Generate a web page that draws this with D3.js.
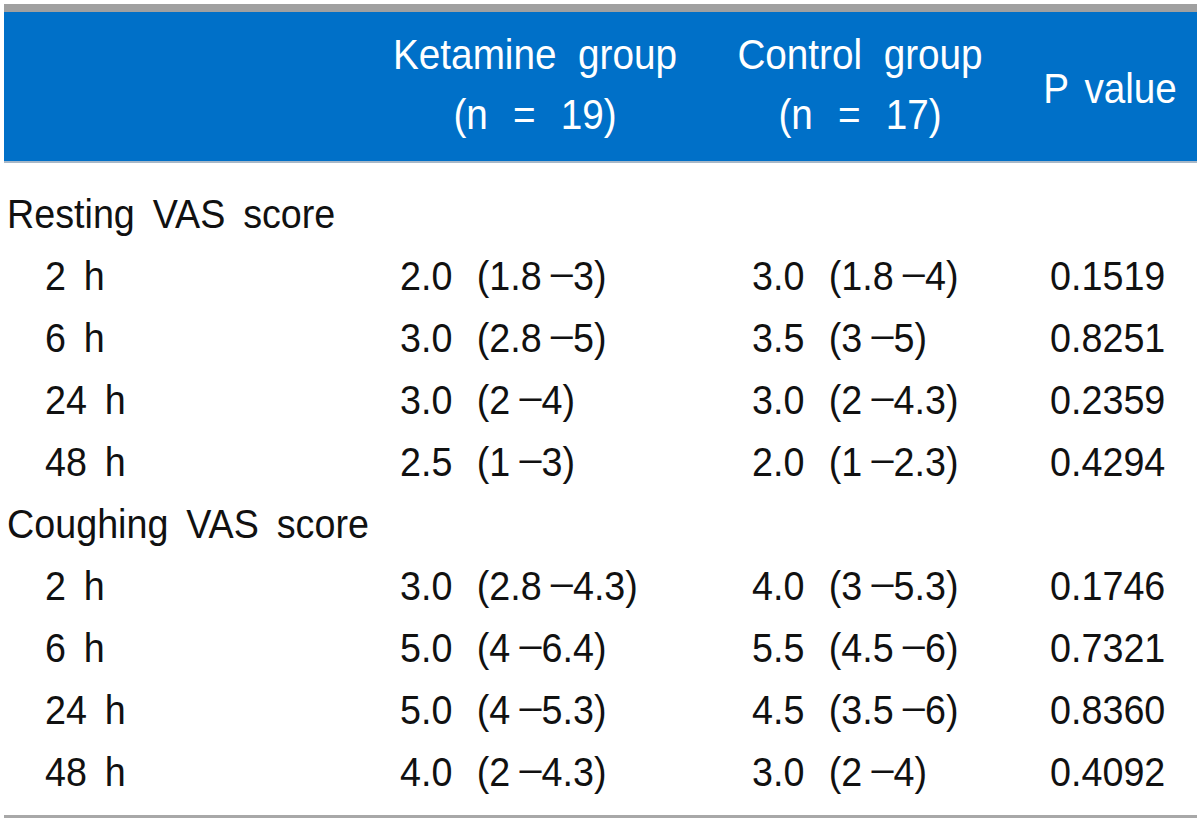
<!DOCTYPE html>
<html>
<head>
<meta charset="utf-8">
<script src="https://cdn.jsdelivr.net/npm/d3@7"></script>
<style>
  html, body { margin: 0; padding: 0; background: #ffffff; }
  svg { display: block; }
  text { font-family: "Liberation Sans", Arial, sans-serif; }
</style>
</head>
<body>
<script>
// ---- data ----
const headers = [
  ["Ketamine group", "(n = 19)"],
  ["Control group", "(n = 17)"],
  ["P value"]
];
const sections = ["Resting VAS score", "Coughing VAS score"];
const timepoints = ["2 h", "6 h", "24 h", "48 h"];
const ketamineMedian = [[2.0, 3.0, 3.0, 2.5], [3.0, 5.0, 5.0, 4.0]];
const ketamineIQR = [["1.8", "3"], ["2.8", "5"], ["2", "4"], ["1", "3"], ["2.8", "4.3"], ["4", "6.4"], ["4", "5.3"], ["2", "4.3"]];
const controlMedian = [[3.0, 3.5, 3.0, 2.0], [4.0, 5.5, 4.5, 3.0]];
const controlIQR = [["1.8", "4"], ["3", "5"], ["2", "4.3"], ["1", "2.3"], ["3", "5.3"], ["4.5", "6"], ["3.5", "6"], ["2", "4"]];
const pValues = ["0.1519", "0.8251", "0.2359", "0.4294", "0.1746", "0.7321", "0.8360", "0.4092"];

// ---- layout ----
const W = 1200, H = 821;
const FS = 41, SX = 0.92, HFS = 43, HSX = 0.9;
const svg = d3.select("body").append("svg").attr("width", W).attr("height", H);

const rows = [];
sections.forEach((s, si) => {
  rows.push({type: "section", label: s});
  timepoints.forEach((t, ti) => {
    const idx = si * 4 + ti;
    rows.push({
      type: "item", label: t,
      ket: [ketamineMedian[si][ti].toFixed(1), ketamineIQR[idx]],
      con: [controlMedian[si][ti].toFixed(1), controlIQR[idx]],
      p: pValues[idx]
    });
  });
});
// baseline positions of body rows
const y = d3.scalePoint().domain(d3.range(rows.length)).range([228, 786]);

// header band and rules
svg.append("rect").attr("x", 4).attr("y", 4).attr("width", 1193).attr("height", 8).attr("fill", "#a0a0a0");
svg.append("rect").attr("x", 4).attr("y", 12).attr("width", 1193).attr("height", 150).attr("fill", "#0070c8");
svg.append("rect").attr("x", 4).attr("y", 161).attr("width", 1193).attr("height", 2).attr("fill", "#a8b8c8");
svg.append("rect").attr("x", 4).attr("y", 815).attr("width", 1193).attr("height", 3).attr("fill", "#a8a8a8");

function txt(g, x, yy, s, opts = {}) {
  return g.append("text")
    .attr("transform", `translate(${x},${yy}) scale(${opts.sx || SX},1)`)
    .attr("font-size", opts.fs || FS)
    .attr("fill", opts.fill || "#111")
    .attr("text-anchor", opts.anchor || "start")
    .style("word-spacing", (opts.ws == null ? 7 : opts.ws) + "px")
    .text(s);
}

// header
const hdr = svg.append("g");
const hx = [535, 860, 1110];
headers.forEach((h, i) => {
  const o = {fs: HFS, sx: HSX, fill: "#fff", anchor: "middle"};
  if (h.length === 2) {
    txt(hdr, hx[i], 69, h[0], {...o, ws: 12});
    txt(hdr, hx[i], 129, h[1], {...o, ws: 16});
  } else {
    txt(hdr, hx[i], 103, h[0], {...o, ws: 6});
  }
});

// body
const body = svg.append("g");
rows.forEach((r, i) => {
  const by = y(i);
  if (r.type === "section") {
    txt(body, 7, by, r.label, {ws: 8});
  } else {
    txt(body, 45, by, r.label, {ws: 8});
    const cell = (x, v) => {
      const t = txt(body, x, by, "", {ws: 15});
      t.append("tspan").text(v[0] + " (" + v[1][0]);
      t.append("tspan").attr("dx", 10).attr("dy", -8).attr("font-size", 24).attr("font-weight", "bold").text("\u2014");
      t.append("tspan").attr("dy", 8).text(v[1][1] + ")");
    };
    cell(400, r.ket);
    cell(752, r.con);
    txt(body, 1050, by, r.p, {ws: 0});
  }
});
</script>
</body>
</html>
